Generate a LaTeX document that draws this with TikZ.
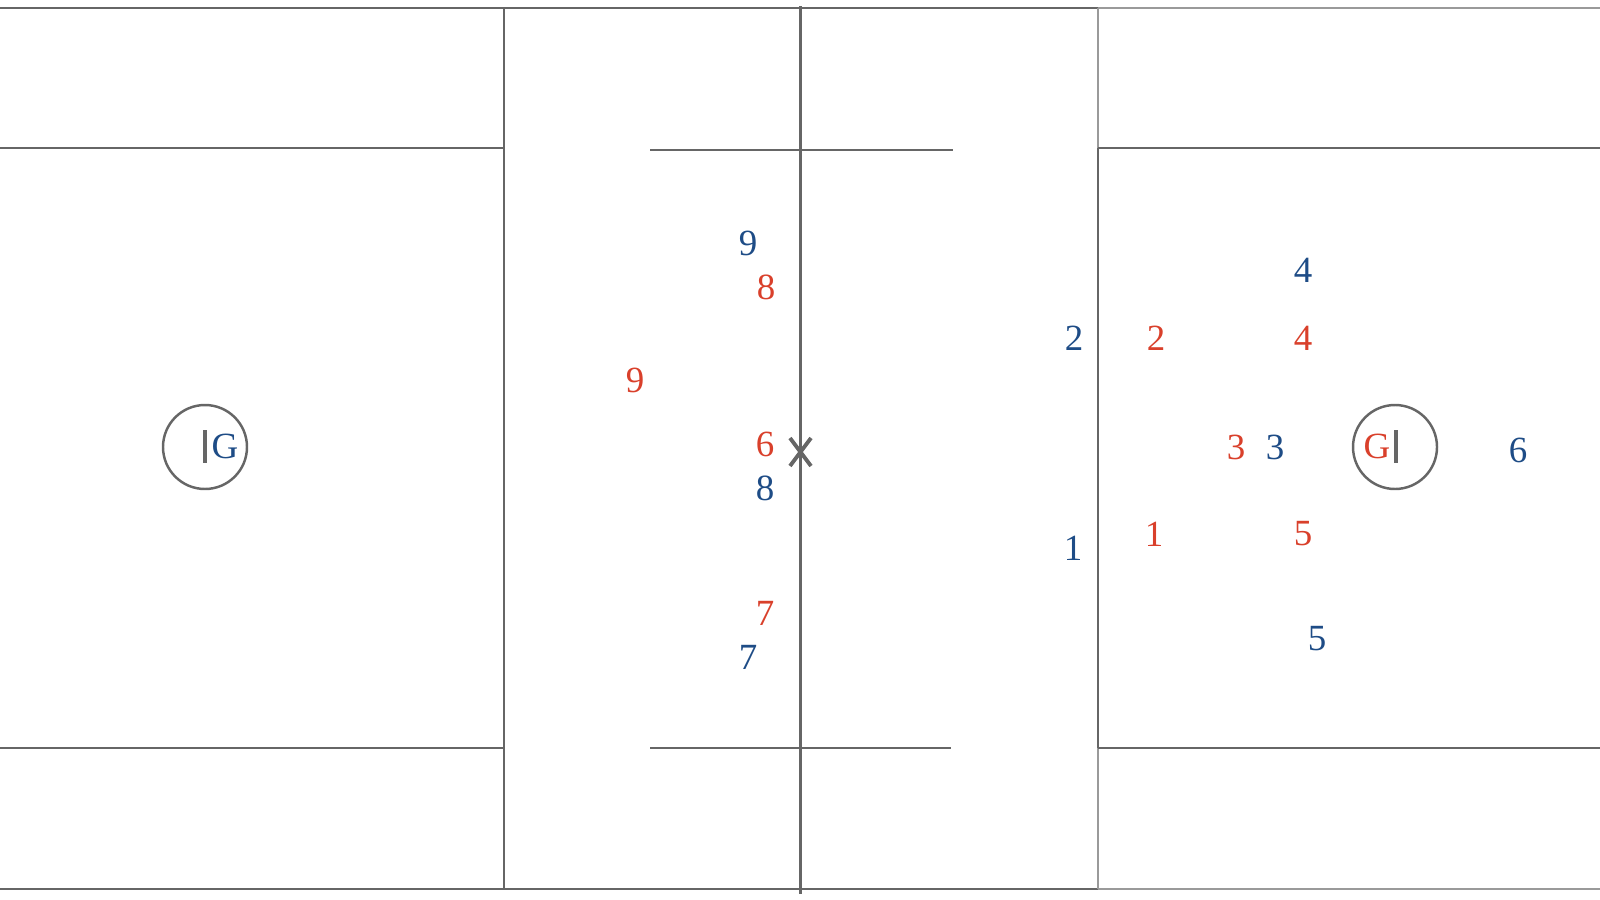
\documentclass[tikz,border=0pt]{standalone}
\usepackage{fontspec}
\setmainfont{Liberation Serif}
\definecolor{teamblue}{HTML}{1E4C86}
\definecolor{teamred}{HTML}{D9402B}
\definecolor{fieldline}{HTML}{666666}
\definecolor{fieldlight}{HTML}{9A9A9A}
\begin{document}
\begin{tikzpicture}[x=0.01cm,y=-0.01cm,
    fld/.style={draw=fieldline,line width=0.7pt},
    fldlight/.style={draw=fieldlight,line width=0.7pt},
    bluenum/.style={text=teamblue,font=\fontsize{10.5}{12}\selectfont,inner sep=0pt},
    rednum/.style={text=teamred,font=\fontsize{10.5}{12}\selectfont,inner sep=0pt}]
        \useasboundingbox (0,0) rectangle (1600,900);

        % field outline
        \draw[fld] (0,8) -- (1098,8);
        \draw[fldlight] (1098,8) -- (1600,8);
        \draw[fld] (0,889) -- (1098,889);
        \draw[fldlight] (1098,889) -- (1600,889);
        \draw[fld] (504,8) -- (504,889);
        \draw[fld,line width=0.85pt] (800,6) -- (800,894);
        \draw[fldlight] (1098,8) -- (1098,148);
        \draw[fld] (1098,148) -- (1098,748);
        \draw[fldlight] (1098,748) -- (1098,889);

        % boxes and wings
        \draw[fld] (0,148) -- (504,148);
        \draw[fld] (0,748) -- (504,748);
        \draw[fld] (1098,148) -- (1600,148);
        \draw[fld] (1098,748) -- (1600,748);
        \draw[fld] (650,150) -- (953,150);
        \draw[fld] (650,748) -- (951,748);

        % goals
        \draw[fld] (205,447) circle (42);
        \draw[fld,line width=1pt] (205,430) -- (205,463);
        \node[bluenum,anchor=west] (gleft) at (211,446) {G};
        \draw[fld] (1395,447) circle (42);
        \draw[fld,line width=1pt] (1396,430) -- (1396,463);
        \node[rednum,anchor=east] (gright) at (1391,446) {G};

        % faceoff X
        \draw[fld,line width=1.1pt] (790,438) -- (811,466);
        \draw[fld,line width=1.1pt] (811,438) -- (790,466);

        % players
        \foreach \n/\x/\y in {9/748/243, 8/765/488, 7/748/657, 2/1074/338,
            1/1073/548, 4/1303/270, 3/1275/447, 6/1518/450, 5/1317/639}
          \node[bluenum] (b\n) at (\x,\y) {\n};
        \foreach \n/\x/\y in {8/766/287, 9/635/380, 6/765/444, 7/765/613,
            2/1156/338, 4/1303/338, 3/1236/447, 1/1154/534, 5/1303/534}
          \node[rednum] (r\n) at (\x,\y) {\n};
       \end{tikzpicture}
\end{document}
